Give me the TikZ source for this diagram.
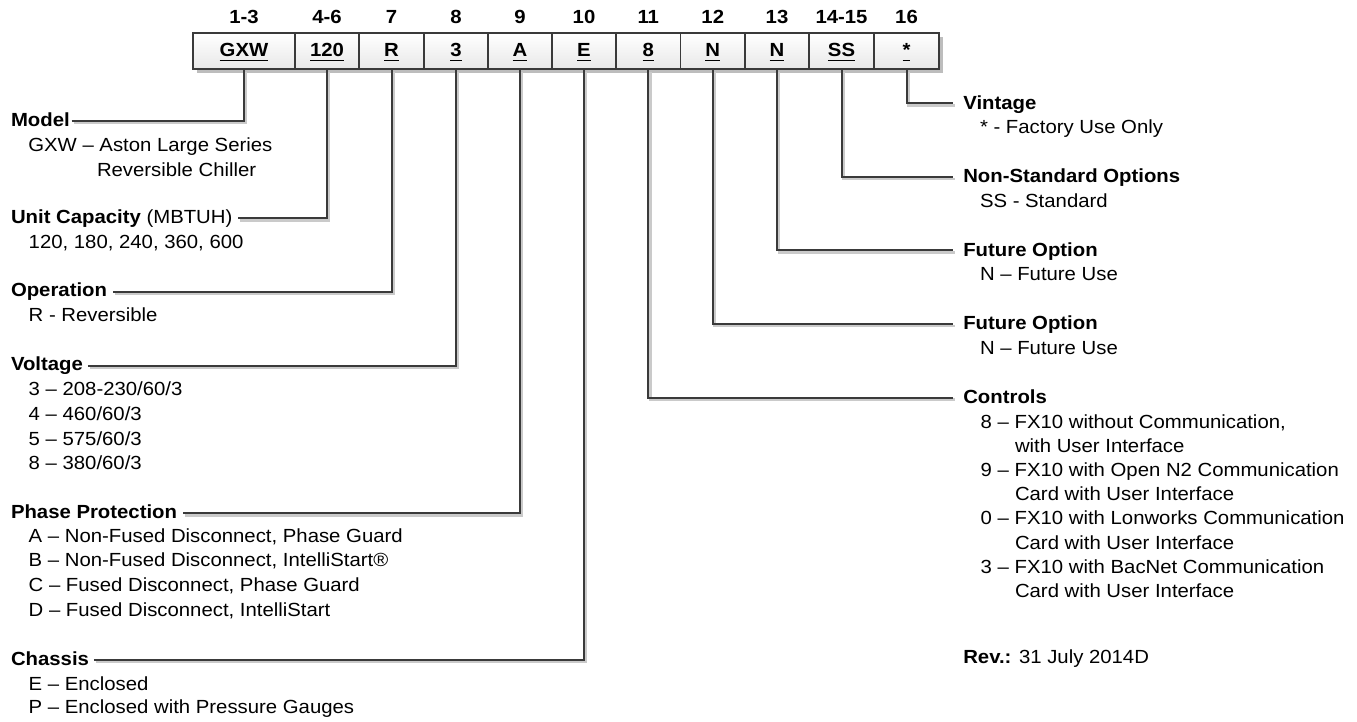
\documentclass[tikz,border=0pt]{standalone}
\usepackage{fontspec}
\setmainfont{Liberation Sans}[FakeStretch=1.07]
\usetikzlibrary{calc}
\definecolor{linegray}{HTML}{3A3A3A}
\definecolor{shadowgray}{HTML}{CACACA}
\definecolor{boxshadow}{HTML}{BDBDBD}
\newcommand\ulbox[1]{\setbox0\hbox{#1}\rlap{\rule[-4.6pt]{\wd0}{1.6pt}}\box0}
\begin{document}
\begin{tikzpicture}[x=1pt,y=-1pt,
  font=\fontsize{19}{24}\selectfont,
  txt/.style={anchor=base west, inner sep=0pt, outer sep=0pt},
  hd/.style={txt, font=\fontsize{19}{24}\selectfont\bfseries},
  num/.style={anchor=base, inner sep=0pt, font=\fontsize{19}{24}\selectfont\bfseries},
  code/.style={anchor=base, inner sep=0pt, font=\fontsize{19}{24}\selectfont\bfseries},
  bx/.style={draw=linegray, line width=1.8pt, top color=white, bottom color=black!9,
    minimum height=36pt, inner sep=0pt},
  conn/.style={draw=linegray, line width=2pt,
    preaction={draw=shadowgray, line width=2.6pt, transform canvas={xshift=2pt,yshift=-2pt}}}
]
\useasboundingbox (0,0) rectangle (1357,721);

% box shadow
\fill[boxshadow] (197,37) rectangle (943,73);

% boxes
\node[bx, minimum width=102pt] (b1) at (244,51) {};
\node[bx, minimum width=64pt] (b2) at (327,51) {};
\node[bx, minimum width=65pt] (b3) at (391.5,51) {};
\node[bx, minimum width=64pt] (b4) at (456,51) {};
\node[bx, minimum width=64pt] (b5) at (520,51) {};
\node[bx, minimum width=64pt] (b6) at (584,51) {};
\node[bx, minimum width=64.5pt] (b7) at (648.25,51) {};
\node[bx, minimum width=64.5pt] (b8) at (712.75,51) {};
\node[bx, minimum width=64pt] (b9) at (777,51) {};
\node[bx, minimum width=65pt] (b10) at (841.5,51) {};
\node[bx, minimum width=65pt] (b11) at (906.5,51) {};

% codes in boxes
\node[code] (c1) at (244,56.7) {\ulbox{GXW}};
\node[code] (c2) at (327,56.7) {\ulbox{120}};
\node[code] (c3) at (391.5,56.7) {\ulbox{R}};
\node[code] (c4) at (456,56.7) {\ulbox{3}};
\node[code] (c5) at (520,56.7) {\ulbox{A}};
\node[code] (c6) at (584,56.7) {\ulbox{E}};
\node[code] (c7) at (648.25,56.7) {\ulbox{8}};
\node[code] (c8) at (712.75,56.7) {\ulbox{N}};
\node[code] (c9) at (777,56.7) {\ulbox{N}};
\node[code] (c10) at (841.5,56.7) {\ulbox{SS}};
\node[code] (c11) at (906.5,56.7) {\ulbox{*}};

% position numbers
\node[num] (n1) at (244,23.3) {1-3};
\node[num] (n2) at (327,23.3) {4-6};
\node[num] (n3) at (391.5,23.3) {7};
\node[num] (n4) at (456,23.3) {8};
\node[num] (n5) at (520,23.3) {9};
\node[num] (n6) at (584,23.3) {10};
\node[num] (n7) at (648.25,23.3) {11};
\node[num] (n8) at (712.75,23.3) {12};
\node[num] (n9) at (777,23.3) {13};
\node[num] (n10) at (841.5,23.3) {14-15};
\node[num] (n11) at (906.5,23.3) {16};

% left side
\node[hd] (model) at (11,126) {Model};
\node[txt] (m1) at (28.3,151.7) {GXW – Aston Large Series};
\node[txt] (m2) at (97,176) {Reversible Chiller};

\node[txt] (unit) at (11,223.3) {\textbf{Unit Capacity} (MBTUH)};
\node[txt] (u1) at (28.7,248.3) {120, 180, 240, 360, 600};

\node[hd] (oper) at (11,296.7) {Operation};
\node[txt] (o1) at (28.7,321.7) {R - Reversible};

\node[hd] (volt) at (11,370.7) {Voltage};
\node[txt] (v1) at (28.7,395.7) {3 – 208-230/60/3};
\node[txt] (v2) at (28.7,420) {4 – 460/60/3};
\node[txt] (v3) at (28.7,445) {5 – 575/60/3};
\node[txt] (v4) at (28.7,469.3) {8 – 380/60/3};

\node[hd] (phase) at (11,518.3) {Phase Protection};
\node[txt] (p1) at (28.7,542.7) {A – Non-Fused Disconnect, Phase Guard};
\node[txt] (p2) at (28.7,566.7) {B – Non-Fused Disconnect, IntelliStart®};
\node[txt] (p3) at (28.7,591.7) {C – Fused Disconnect, Phase Guard};
\node[txt] (p4) at (28.7,616) {D – Fused Disconnect, IntelliStart};

\node[hd] (chassis) at (11,665) {Chassis};
\node[txt] (ch1) at (28.7,690) {E – Enclosed};
\node[txt] (ch2) at (28.7,713.3) {P – Enclosed with Pressure Gauges};

% right side
\node[hd] (vint) at (963.3,109.3) {Vintage};
\node[txt] (vi1) at (980,133.3) {* - Factory Use Only};

\node[hd] (nonstd) at (963.3,182.8) {Non-Standard Options};
\node[txt] (ns1) at (980,207.5) {SS - Standard};

\node[hd] (fut13) at (963.3,256.3) {Future Option};
\node[txt] (f13) at (980,280.5) {N – Future Use};

\node[hd] (fut12) at (963.3,329.8) {Future Option};
\node[txt] (f12) at (980,354) {N – Future Use};

\node[hd] (ctrl) at (963.3,403.5) {Controls};
\node[txt] (k1) at (980.7,428) {8 – FX10 without Communication,};
\node[txt] (k2) at (1015,452.2) {with User Interface};
\node[txt] (k3) at (980.7,476.4) {9 – FX10 with Open N2 Communication};
\node[txt] (k4) at (1015,500.6) {Card with User Interface};
\node[txt] (k5) at (980.7,524.8) {0 – FX10 with Lonworks Communication};
\node[txt] (k6) at (1015,549) {Card with User Interface};
\node[txt] (k7) at (980.7,573.2) {3 – FX10 with BacNet Communication};
\node[txt] (k8) at (1015,597.4) {Card with User Interface};

\node[txt] (rev) at (963.3,663) {\textbf{Rev.:} 31 July 2014D};

% connectors left
\draw[conn] ($(model.base east)+(2,-5)$) -| (b1.south);
\draw[conn] ($(unit.base east)+(6,-5)$) -| (b2.south);
\draw[conn] ($(oper.base east)+(6,-5)$) -| (b3.south);
\draw[conn] ($(volt.base east)+(5,-5)$) -| (b4.south);
\draw[conn] ($(phase.base east)+(6,-5)$) -| (b5.south);
\draw[conn] ($(chassis.base east)+(5,-5)$) -| (b6.south);

% connectors right
\draw[conn] (b11.south) |- ($(vint.base west)+(-10.5,-6)$);
\draw[conn] (b10.south) |- ($(nonstd.base west)+(-10.5,-6)$);
\draw[conn] (b9.south) |- ($(fut13.base west)+(-10.5,-6)$);
\draw[conn] (b8.south) |- ($(fut12.base west)+(-10.5,-6)$);
\draw[conn] (b7.south) |- ($(ctrl.base west)+(-10.5,-6)$);
\end{tikzpicture}
\end{document}
